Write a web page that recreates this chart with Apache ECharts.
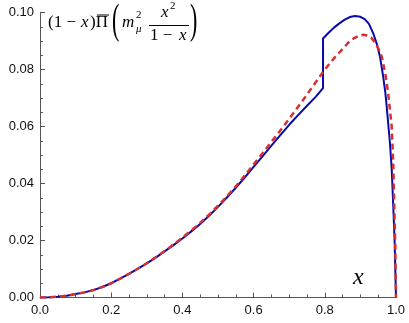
<!DOCTYPE html>
<html><head><meta charset="utf-8">
<script src="https://cdn.jsdelivr.net/npm/echarts@6/dist/echarts.min.js"></script>
<style>html,body{margin:0;padding:0;background:#fff}#c{width:409px;height:323px}</style>
</head><body><div id="c"></div>
<script>
// blue (solid) curve; note the jump at x = 0.795
const blueX = [0,0.025,0.05,0.075,0.10,0.125,0.15,0.175,0.20,0.225,0.25,0.275,0.30,0.325,0.35,0.375,0.40,0.425,0.45,0.475,0.50,0.525,0.55,0.575,0.60,0.625,0.65,0.675,0.70,0.725,0.75,0.775,0.795,
  0.795,0.81,0.825,0.84,0.855,0.87,0.885,0.90,0.912,0.924,0.936,0.946,0.955,0.964,0.970,0.974,0.983,0.988,0.992,0.996,1.0];
const blueY = [0,0.0001,0.0003,0.0006,0.0012,0.0018,0.0026,0.0037,0.0050,0.0066,0.0083,0.0101,0.0120,0.0140,0.0162,0.0184,0.0207,0.0232,0.0258,0.0287,0.0318,0.0351,0.0385,0.0421,0.0458,0.0495,0.0533,0.0570,0.0606,0.0640,0.0673,0.0705,0.0735,
  0.0909,0.0928,0.0946,0.0961,0.0974,0.0984,0.0988,0.0985,0.0977,0.0960,0.0927,0.0890,0.0845,0.0775,0.0720,0.0668,0.0542,0.0450,0.0330,0.0200,0];
// red (dashed) curve
const redX = [0,0.025,0.05,0.075,0.10,0.125,0.15,0.175,0.20,0.225,0.25,0.275,0.30,0.325,0.35,0.375,0.40,0.425,0.45,0.475,0.50,0.525,0.55,0.575,0.60,0.625,0.65,0.675,0.70,0.725,0.75,0.775,0.80,0.825,0.847,0.865,0.88,0.895,0.908,0.92,0.93,0.94,0.95,0.96,0.97,0.978,0.988,0.992,0.995,0.998,1.0];
const redY = [0,0.0001,0.0003,0.0006,0.0012,0.0018,0.0026,0.0037,0.0050,0.0066,0.0083,0.0101,0.0120,0.0141,0.0163,0.0186,0.0210,0.0235,0.0262,0.0291,0.0322,0.0355,0.0390,0.0428,0.0467,0.0506,0.0546,0.0586,0.0627,0.0669,0.0712,0.0756,0.0800,0.0838,0.0868,0.0893,0.0908,0.0918,0.0922,0.0919,0.0912,0.0897,0.0875,0.0845,0.0785,0.0716,0.0599,0.0480,0.0330,0.0180,0];
const xTicks = {min:0, max:1, interval:0.2};
const yTicks = {min:0, max:0.10, interval:0.02};

const chart = echarts.init(document.getElementById('c'));
const zip = (a,b)=>a.map((v,i)=>[v,b[i]]);
const axisCol = '#555';
const serif = '"Liberation Serif","DejaVu Serif",serif';
const sans = '"Liberation Sans",Arial,sans-serif';
chart.setOption({
  animation:false,
  grid:{left:40,right:13,top:12.5,bottom:25.5},
  xAxis:{type:'value',min:xTicks.min,max:xTicks.max,interval:xTicks.interval,
    axisLine:{show:true,lineStyle:{color:axisCol,width:1}},
    axisTick:{show:true,inside:true,length:5,lineStyle:{color:axisCol}},
    minorTick:{show:true,splitNumber:4,length:3,lineStyle:{color:axisCol}},
    splitLine:{show:false},
    axisLabel:{color:'#111',fontSize:13,fontFamily:sans,margin:6,formatter:v=>v.toFixed(1)}},
  yAxis:{type:'value',min:yTicks.min,max:yTicks.max,interval:yTicks.interval,
    axisLine:{show:true,lineStyle:{color:axisCol,width:1}},
    axisTick:{show:true,inside:true,length:5,lineStyle:{color:axisCol}},
    minorTick:{show:true,splitNumber:4,length:3,lineStyle:{color:axisCol}},
    splitLine:{show:false},
    axisLabel:{color:'#111',fontSize:13,fontFamily:sans,margin:6,formatter:v=>v.toFixed(2)}},
  series:[
    {type:'line',data:zip(blueX,blueY),showSymbol:false,clip:false,
      lineStyle:{color:'#0a0aa8',width:2,join:'round'},z:2},
    {type:'line',data:zip(redX,redY),showSymbol:false,clip:false,
      lineStyle:{color:'#d43232',width:2.5,type:[6,4]},z:3}
  ],
  graphic:[
    {type:'text',left:48,top:14,style:{text:'(1 −',font:'17px '+serif,fill:'#000'}},
    {type:'text',left:81,top:14,style:{text:'x',font:'italic 17px '+serif,fill:'#000'}},
    {type:'text',left:90,top:14,style:{text:')Π',font:'17px '+serif,fill:'#000'}},
    {type:'line',shape:{x1:97,y1:15,x2:109,y2:15},style:{stroke:'#000',lineWidth:1}},
    {type:'text',x:112,y:1,scaleY:2.1,scaleX:1.1,style:{text:'(',font:'20px '+serif,fill:'#000',verticalAlign:'top'}},
    {type:'text',left:122,top:14,style:{text:'m',font:'italic 17px '+serif,fill:'#000'}},
    {type:'text',left:136,top:10,style:{text:'2',font:'11px '+serif,fill:'#000'}},
    {type:'text',left:136,top:24,style:{text:'μ',font:'italic 11px '+serif,fill:'#000'}},
    {type:'text',left:161,top:4,style:{text:'x',font:'italic 17px '+serif,fill:'#000'}},
    {type:'text',left:170,top:1,style:{text:'2',font:'11px '+serif,fill:'#000'}},
    {type:'line',shape:{x1:149,y1:25.5,x2:189,y2:25.5},style:{stroke:'#000',lineWidth:1}},
    {type:'text',left:150,top:27,style:{text:'1 −',font:'17px '+serif,fill:'#000'}},
    {type:'text',left:179,top:27,style:{text:'x',font:'italic 17px '+serif,fill:'#000'}},
    {type:'text',x:190,y:1,scaleY:2.1,scaleX:1.1,style:{text:')',font:'20px '+serif,fill:'#000',verticalAlign:'top'}},
    {type:'text',left:353,top:266,style:{text:'x',font:'italic 24px '+serif,fill:'#000'}}
  ]
});
</script></body></html>
